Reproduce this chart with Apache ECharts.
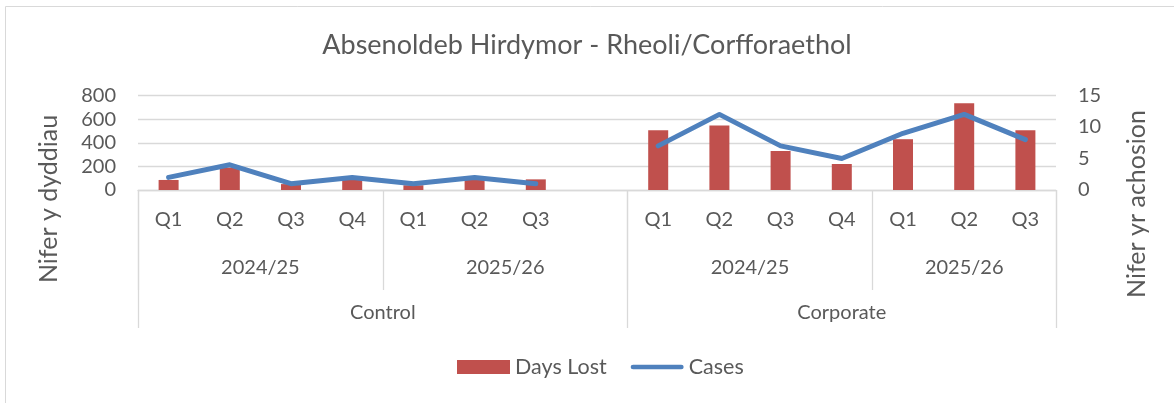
<!DOCTYPE html>
<html>
<head>
<meta charset="utf-8">
<script src="https://cdn.jsdelivr.net/npm/echarts@6/dist/echarts.min.js"></script>
<style>
html,body{margin:0;padding:0;background:#fff;}
#c{width:1174px;height:403px;}
</style>
</head>
<body>
<div id="c"></div>
<script>
// ---- data ----
const quarters = ['Q1','Q2','Q3','Q4','Q1','Q2','Q3','','Q1','Q2','Q3','Q4','Q1','Q2','Q3'];
const yearLabels = ['2024/25','2025/26','2024/25','2025/26'];
const yearSpans = [4,4,4,3];
const groupLabels = ['Control','Corporate'];
const groupSpans = [8,7];
const daysLost = [85,190,50,100,40,90,90,null,505,545,330,220,430,735,505];
const cases = [2,4,1,2,1,2,1,null,7,12,7,5,9,12,8];
const leftTicks = [0,200,400,600,800];
const rightTicks = [0,5,10,15];

// ---- derived axis helpers ----
function spanInfo(spans){
  const bounds=[0], centers=[];
  let acc=0;
  spans.forEach(s=>{centers.push(acc+s/2); acc+=s; bounds.push(acc);});
  return {bounds, centers};
}
const yr = spanInfo(yearSpans);
const gr = spanInfo(groupSpans);
const total = quarters.length;

const txt = '#595959';
const grid = '#D9D9D9';
const font = 'Lato';

const chart = echarts.init(document.getElementById('c'));
chart.setOption({
  animation:false,
  textStyle:{fontFamily:font},
  title:{
    text:'Absenoldeb Hirdymor - Rheoli/Corfforaethol',
    left:'center', top:27,
    textStyle:{fontFamily:font,fontSize:27,fontWeight:'normal',color:txt}
  },
  graphic:[
    {type:'rect',shape:{x:5.5,y:6.5,width:1300,height:600},style:{fill:'none',stroke:grid,lineWidth:1},silent:true},
    {type:'text',x:49,y:199,rotation:Math.PI/2,silent:true,
     style:{text:'Nifer y dyddiau',fill:txt,font:'25px Lato',align:'center',verticalAlign:'middle'}},
    {type:'text',x:1137,y:204,rotation:Math.PI/2,silent:true,
     style:{text:'Nifer yr achosion',fill:txt,font:'25px Lato',align:'center',verticalAlign:'middle'}}
  ],
  legend:{
    bottom:20, left:452,
    itemGap:24, itemWidth:53, itemHeight:14,
    textStyle:{fontFamily:font,fontSize:21.5,color:txt},
    data:[
      {name:'Days Lost',icon:'rect'},
      {name:'Cases',icon:'path://M2.5,0 L53.5,0 A2.5,2.5 0 0 1 53.5,5 L2.5,5 A2.5,2.5 0 0 1 2.5,0 Z'}
    ]
  },
  grid:{left:138,right:118,top:95.5,bottom:213},
  xAxis:[
    {type:'category',data:quarters,position:'bottom',
     axisLine:{show:true,lineStyle:{color:grid,width:1.3}},
     axisTick:{show:false},
     axisLabel:{color:txt,fontSize:20,fontFamily:font,margin:20,interval:0},
     splitLine:{show:false}},
    {type:'value',min:0,max:total,position:'bottom',
     axisLine:{show:false},
     axisTick:{show:true,customValues:yr.bounds,length:100,lineStyle:{color:grid,width:1.3}},
     axisLabel:{show:true,customValues:yr.centers,margin:68,color:txt,fontSize:20,fontFamily:font,
       formatter:v=>{const i=yr.centers.indexOf(v);return i>=0?yearLabels[i]:'';}},
     splitLine:{show:false}},
    {type:'value',min:0,max:total,position:'bottom',
     axisLine:{show:false},
     axisTick:{show:true,customValues:gr.bounds,length:138,lineStyle:{color:grid,width:1.3}},
     axisLabel:{show:true,customValues:gr.centers,margin:113,color:txt,fontSize:20,fontFamily:font,
       formatter:v=>{const i=gr.centers.indexOf(v);return i>=0?groupLabels[i]:'';}},
     splitLine:{show:false}}
  ],
  yAxis:[
    {type:'value',min:leftTicks[0],max:leftTicks[leftTicks.length-1],interval:leftTicks[1]-leftTicks[0],
     axisLine:{show:false},axisTick:{show:false},
     axisLabel:{color:txt,fontSize:20,fontFamily:font,margin:22},
     splitLine:{lineStyle:{color:grid,width:1.3}}},
    {type:'value',min:rightTicks[0],max:rightTicks[rightTicks.length-1],interval:rightTicks[1]-rightTicks[0],
     axisLine:{show:false},axisTick:{show:false},
     axisLabel:{color:txt,fontSize:20,fontFamily:font,margin:22},
     splitLine:{show:false}}
  ],
  series:[
    {name:'Days Lost',type:'bar',xAxisIndex:0,yAxisIndex:0,data:daysLost,barWidth:20,
     itemStyle:{color:'#C0504D'}},
    {name:'Cases',type:'line',xAxisIndex:0,yAxisIndex:1,data:cases,symbol:'none',
     lineStyle:{color:'#4F81BD',width:5,cap:'round',join:'round'},itemStyle:{color:'#4F81BD'}}
  ]
});
</script>
</body>
</html>
